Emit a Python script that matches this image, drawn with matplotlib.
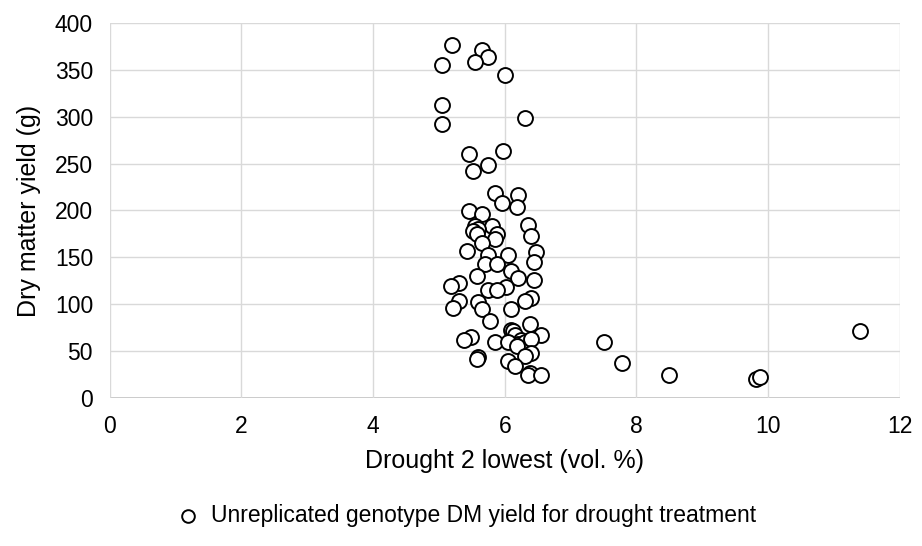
import matplotlib
matplotlib.use("Agg")
import matplotlib.pyplot as plt

plt.rcParams['font.family'] = ['Liberation Sans', 'DejaVu Sans']

x_vals = [5.2, 5.65, 5.75, 5.55, 5.05, 6.0, 5.05, 6.3, 5.05, 5.45, 5.98, 5.75, 5.52,
          5.85, 6.2, 5.95, 6.18, 5.45, 5.65, 6.35, 5.55, 5.8, 5.6, 5.52, 5.58, 5.88,
          6.4, 5.85, 5.65, 5.42, 6.48, 5.75, 6.05, 6.45, 5.7, 5.88, 6.1, 5.58, 6.2,
          6.45, 5.3, 5.18, 6.02, 5.75, 5.88, 5.3, 6.4, 5.6, 6.3, 5.22, 5.65, 6.1,
          5.78, 6.38, 6.1, 6.12, 6.15, 6.25, 6.55, 5.48, 5.38, 5.85, 6.2, 6.3, 6.05,
          6.4, 6.18, 5.6, 5.58, 6.4, 6.3, 6.05, 6.15, 6.38, 6.35, 6.55, 7.5, 7.78,
          8.5, 9.82, 9.87, 11.4]
y_vals = [377, 371, 364, 358, 355, 345, 313, 299, 292, 260, 263, 248, 242,
          219, 216, 208, 204, 199, 196, 185, 183, 183, 180, 178, 175, 175,
          173, 170, 165, 157, 156, 152, 153, 145, 143, 143, 135, 130, 128,
          126, 123, 119, 118, 115, 115, 104, 107, 102, 103, 96, 95, 95,
          82, 79, 73, 71, 67, 62, 67, 65, 62, 60, 58, 60, 60,
          63, 55, 44, 42, 48, 45, 40, 34, 27, 25, 25, 60, 37,
          25, 20, 22, 72]

fig = plt.figure(figsize=(9.22, 5.46), dpi=100)
ax = fig.add_axes([0.119, 0.271, 0.857, 0.687])
ax.scatter(x_vals, y_vals, s=115, facecolors='white', edgecolors='black',
           linewidths=1.4, zorder=3,
           label='Unreplicated genotype DM yield for drought treatment')
ax.set_xlim(0, 12)
ax.set_ylim(0, 400)
ax.set_xticks(range(0, 13, 2))
ax.set_yticks(range(0, 401, 50))
ax.grid(True, color='#d9d9d9', linewidth=1.0, zorder=0)
for s in ax.spines.values():
    s.set_visible(False)
ax.axhline(0, color='#bfbfbf', linewidth=1.2, zorder=1)
ax.tick_params(length=0, labelsize=16.5, pad=12, colors='#000000')
ax.set_xlabel('Drought 2 lowest (vol. %)', fontsize=18, labelpad=8)
ax.set_ylabel('Dry matter yield (g)', fontsize=18, labelpad=10)
fig.legend(loc='center', bbox_to_anchor=(0.5, 0.055), frameon=False,
           fontsize=16.5, handletextpad=0.0, markerscale=0.85)
fig.savefig('out.png', dpi=100)
